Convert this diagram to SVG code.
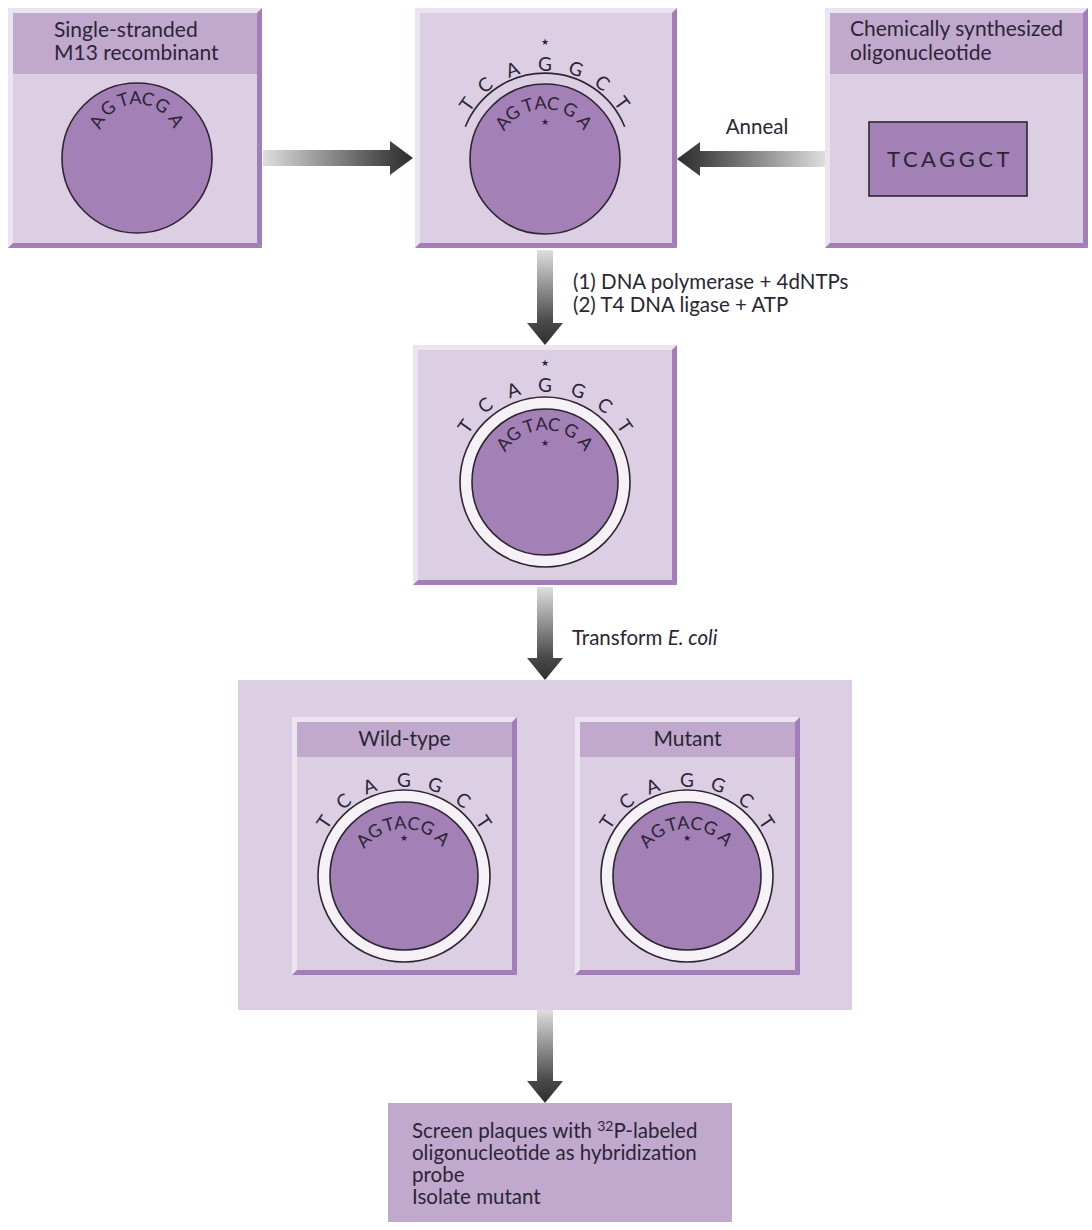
<svg xmlns="http://www.w3.org/2000/svg" width="1092" height="1230" viewBox="0 0 1092 1230">
<style>
.bg{fill:#ffffff}
.body{fill:#dccfe4}
.hdr{fill:#c1a9ce}
.lt{fill:#ece5f1}
.dk{fill:#a37db7}
.dna{fill:#a380b6;stroke:#2d2630;stroke-width:1.6}
.ring{fill:#f5f1f7;stroke:#2d2630;stroke-width:1.6}
.strand{fill:none;stroke:#2d2630;stroke-width:1.6}
text{font-family:Lato,"Open Sans","Liberation Sans",sans-serif;fill:#2b2535}
.lbl{font-size:21px}
.step{font-size:20.5px}
.nt{font-size:19px;text-anchor:middle;dominant-baseline:central}
.ni{font-size:18px;text-anchor:middle;dominant-baseline:central}
.star{font-family:"DejaVu Sans",sans-serif;font-size:9px;text-anchor:middle;dominant-baseline:central}
.oligo{font-size:22px;letter-spacing:3.5px;text-anchor:middle}
</style>
<defs>
<linearGradient id="gv" x1="0" y1="0" x2="0" y2="1">
<stop offset="0" stop-color="#dedede"/><stop offset="0.75" stop-color="#4a4a4a"/><stop offset="1" stop-color="#2e2e2e"/>
</linearGradient>
<linearGradient id="gr" x1="0" y1="0" x2="1" y2="0">
<stop offset="0" stop-color="#dedede"/><stop offset="0.82" stop-color="#474747"/><stop offset="1" stop-color="#2e2e2e"/>
</linearGradient>
<linearGradient id="gl" x1="1" y1="0" x2="0" y2="0">
<stop offset="0" stop-color="#dedede"/><stop offset="0.82" stop-color="#474747"/><stop offset="1" stop-color="#2e2e2e"/>
</linearGradient>
</defs>
<rect class="bg" x="0" y="0" width="1092" height="1230"/>

<g id="connectors">
<polygon fill="url(#gr)" points="263,150 390,150 390,141 413,158 390,175 390,166 263,166"/>
<polygon fill="url(#gl)" points="825,151 700,151 700,142 677,159 700,176 700,167 825,167"/>
<text class="step" x="757" y="134" text-anchor="middle">Anneal</text>
<polygon fill="url(#gv)" points="537,250 553,250 553,323 563,323 545,345 527,323 537,323"/>
<text class="step" x="573" y="289">(1) DNA polymerase + 4dNTPs</text>
<text class="step" x="573" y="312">(2) T4 DNA ligase + ATP</text>
<polygon fill="url(#gv)" points="537,587 553,587 553,658 563,658 545,680 527,658 537,658"/>
<text class="step" x="572" y="645">Transform <tspan font-style="italic">E. coli</tspan></text>
<polygon fill="url(#gv)" points="537,1010 553,1010 553,1081 563,1081 545,1103 527,1081 537,1081"/>
</g>

<g id="node-ss-m13">
<rect class="body" x="8" y="8" width="254" height="240"/>
<rect class="hdr" x="13" y="13" width="244" height="61"/>
<polygon class="lt" points="8,8 262,8 257,13 13,13"/>
<polygon class="lt" points="8,8 13,13 13,243 8,248"/>
<polygon class="dk" points="262,8 262,248 257,243 257,13"/>
<polygon class="dk" points="8,248 262,248 257,243 13,243"/>
<text class="lbl" x="54" y="37">Single-stranded</text>
<text class="lbl" x="54" y="60">M13 recombinant</text>
<circle class="dna" cx="137" cy="158" r="75"/>
<text class="ni" x="137" y="97" transform="rotate(-62 137 143)">A</text>
<text class="ni" x="137" y="97" transform="rotate(-40 137 143)">G</text>
<text class="ni" x="137" y="97" transform="rotate(-18 137 143)">T</text>
<text class="ni" x="137" y="97" transform="rotate(-2 137 143)">A</text>
<text class="ni" x="137" y="97" transform="rotate(14 137 143)">C</text>
<text class="ni" x="137" y="97" transform="rotate(34 137 143)">G</text>
<text class="ni" x="137" y="97" transform="rotate(60 137 143)">A</text>
</g>

<g id="node-annealed">
<rect class="body" x="415" y="8" width="262" height="240"/>
<polygon class="lt" points="415,8 677,8 672,13 420,13"/>
<polygon class="lt" points="415,8 420,13 420,243 415,248"/>
<polygon class="dk" points="677,8 677,248 672,243 672,13"/>
<polygon class="dk" points="415,248 677,248 672,243 420,243"/>
<circle class="dna" cx="545" cy="159" r="75"/>
<path class="strand" d="M465.3,126.8 A86,86 0 0 1 624.7,126.8"/>
<text class="nt" x="545" y="63" transform="rotate(-55 545 159)">T</text>
<text class="nt" x="545" y="63" transform="rotate(-39 545 159)">C</text>
<text class="nt" x="545" y="63" transform="rotate(-20 545 159)">A</text>
<text class="nt" x="545" y="63">G</text>
<text class="nt" x="545" y="63" transform="rotate(19 545 159)">G</text>
<text class="nt" x="545" y="63" transform="rotate(37 545 159)">C</text>
<text class="nt" x="545" y="63" transform="rotate(54 545 159)">T</text>
<text class="star" x="545" y="42">★</text>
<text class="ni" x="544" y="102" transform="rotate(-52 544 155)">A</text>
<text class="ni" x="544" y="102" transform="rotate(-37 544 155)">G</text>
<text class="ni" x="544" y="102" transform="rotate(-18 544 155)">T</text>
<text class="ni" x="544" y="102" transform="rotate(-4 544 155)">A</text>
<text class="ni" x="544" y="102" transform="rotate(10 544 155)">C</text>
<text class="ni" x="544" y="102" transform="rotate(30 544 155)">G</text>
<text class="ni" x="544" y="102" transform="rotate(51 544 155)">A</text>
<text class="star" x="545" y="122">★</text>
</g>

<g id="node-oligo">
<rect class="body" x="825" y="8" width="263" height="240"/>
<rect class="hdr" x="830" y="13" width="253" height="61"/>
<polygon class="lt" points="825,8 1088,8 1083,13 830,13"/>
<polygon class="lt" points="825,8 830,13 830,243 825,248"/>
<polygon class="dk" points="1088,8 1088,248 1083,243 1083,13"/>
<polygon class="dk" points="825,248 1088,248 1083,243 830,243"/>
<text class="lbl" x="850" y="36">Chemically synthesized</text>
<text class="lbl" x="850" y="60">oligonucleotide</text>
<rect class="dna" x="869" y="122" width="158" height="74"/>
<text class="oligo" x="950" y="167">TCAGGCT</text>
</g>

<g id="node-double-stranded">
<rect class="body" x="413" y="345" width="264" height="240"/>
<polygon class="lt" points="413,345 677,345 672,350 418,350"/>
<polygon class="lt" points="413,345 418,350 418,580 413,585"/>
<polygon class="dk" points="677,345 677,585 672,580 672,350"/>
<polygon class="dk" points="413,585 677,585 672,580 418,580"/>
<circle class="ring" cx="545" cy="482" r="85"/>
<circle class="dna" cx="545" cy="482" r="73"/>
<text class="nt" x="545" y="384" transform="rotate(-55 545 482)">T</text>
<text class="nt" x="545" y="384" transform="rotate(-38 545 482)">C</text>
<text class="nt" x="545" y="384" transform="rotate(-19 545 482)">A</text>
<text class="nt" x="545" y="384">G</text>
<text class="nt" x="545" y="384" transform="rotate(20 545 482)">G</text>
<text class="nt" x="545" y="384" transform="rotate(38 545 482)">C</text>
<text class="nt" x="545" y="384" transform="rotate(55 545 482)">T</text>
<text class="star" x="545" y="363">★</text>
<text class="ni" x="545" y="423" transform="rotate(-52 545 476)">A</text>
<text class="ni" x="545" y="423" transform="rotate(-37 545 476)">G</text>
<text class="ni" x="545" y="423" transform="rotate(-18 545 476)">T</text>
<text class="ni" x="545" y="423" transform="rotate(-4 545 476)">A</text>
<text class="ni" x="545" y="423" transform="rotate(10 545 476)">C</text>
<text class="ni" x="545" y="423" transform="rotate(30 545 476)">G</text>
<text class="ni" x="545" y="423" transform="rotate(51 545 476)">A</text>
<text class="star" x="545" y="443">★</text>
</g>

<g id="node-transformants">
<rect class="body" x="238" y="680" width="614" height="330"/>
<g id="node-wild-type">
<rect class="body" x="292" y="717" width="225" height="258"/>
<rect class="hdr" x="297" y="722" width="215" height="35"/>
<polygon class="lt" points="292,717 517,717 512,722 297,722"/>
<polygon class="lt" points="292,717 297,722 297,970 292,975"/>
<polygon class="dk" points="517,717 517,975 512,970 512,722"/>
<polygon class="dk" points="292,975 517,975 512,970 297,970"/>
<text class="lbl" x="404.5" y="746" text-anchor="middle">Wild-type</text>
<circle class="ring" cx="404" cy="876" r="86"/>
<circle class="dna" cx="404" cy="876" r="74"/>
<text class="nt" x="404" y="779" transform="rotate(-56 404 876)">T</text>
<text class="nt" x="404" y="779" transform="rotate(-39 404 876)">C</text>
<text class="nt" x="404" y="779" transform="rotate(-21 404 876)">A</text>
<text class="nt" x="404" y="779">G</text>
<text class="nt" x="404" y="779" transform="rotate(19 404 876)">G</text>
<text class="nt" x="404" y="779" transform="rotate(38 404 876)">C</text>
<text class="nt" x="404" y="779" transform="rotate(56 404 876)">T</text>
<text class="ni" x="404" y="822" transform="rotate(-47 404 878)">A</text>
<text class="ni" x="404" y="822" transform="rotate(-32 404 878)">G</text>
<text class="ni" x="404" y="822" transform="rotate(-16 404 878)">T</text>
<text class="ni" x="404" y="822" transform="rotate(-4 404 878)">A</text>
<text class="ni" x="404" y="822" transform="rotate(10 404 878)">C</text>
<text class="ni" x="404" y="822" transform="rotate(25 404 878)">G</text>
<text class="ni" x="404" y="822" transform="rotate(44 404 878)">A</text>
<text class="star" x="404" y="838">★</text>
</g>
<g id="node-mutant">
<rect class="body" x="575" y="717" width="225" height="258"/>
<rect class="hdr" x="580" y="722" width="215" height="35"/>
<polygon class="lt" points="575,717 800,717 795,722 580,722"/>
<polygon class="lt" points="575,717 580,722 580,970 575,975"/>
<polygon class="dk" points="800,717 800,975 795,970 795,722"/>
<polygon class="dk" points="575,975 800,975 795,970 580,970"/>
<text class="lbl" x="687.5" y="746" text-anchor="middle">Mutant</text>
<circle class="ring" cx="687" cy="876" r="86"/>
<circle class="dna" cx="687" cy="876" r="74"/>
<text class="nt" x="687" y="779" transform="rotate(-56 687 876)">T</text>
<text class="nt" x="687" y="779" transform="rotate(-39 687 876)">C</text>
<text class="nt" x="687" y="779" transform="rotate(-21 687 876)">A</text>
<text class="nt" x="687" y="779">G</text>
<text class="nt" x="687" y="779" transform="rotate(19 687 876)">G</text>
<text class="nt" x="687" y="779" transform="rotate(38 687 876)">C</text>
<text class="nt" x="687" y="779" transform="rotate(56 687 876)">T</text>
<text class="ni" x="687" y="822" transform="rotate(-47 687 878)">A</text>
<text class="ni" x="687" y="822" transform="rotate(-32 687 878)">G</text>
<text class="ni" x="687" y="822" transform="rotate(-16 687 878)">T</text>
<text class="ni" x="687" y="822" transform="rotate(-4 687 878)">A</text>
<text class="ni" x="687" y="822" transform="rotate(10 687 878)">C</text>
<text class="ni" x="687" y="822" transform="rotate(25 687 878)">G</text>
<text class="ni" x="687" y="822" transform="rotate(44 687 878)">A</text>
<text class="star" x="687" y="838">★</text>
</g>
</g>

<g id="node-screen">
<rect class="hdr" x="388" y="1103" width="344" height="119"/>
<text class="step" x="412" y="1138">Screen plaques with <tspan font-size="14" dy="-7">32</tspan><tspan dy="7">P-labeled</tspan></text>
<text class="step" x="412" y="1160">oligonucleotide as hybridization</text>
<text class="step" x="412" y="1182">probe</text>
<text class="step" x="412" y="1204">Isolate mutant</text>
</g>
</svg>
